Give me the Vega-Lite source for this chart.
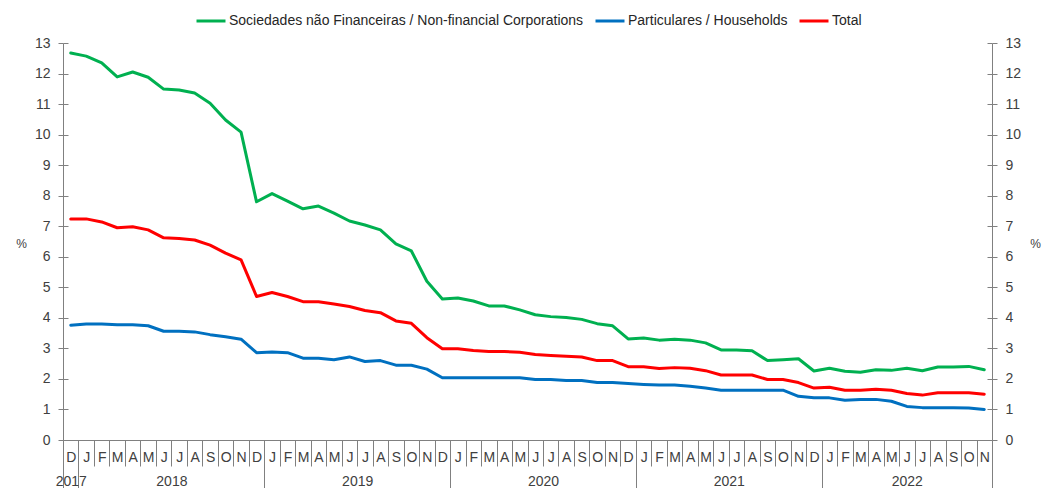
{
  "$schema": "https://vega.github.io/schema/vega-lite/v6.json",
  "width": 929,
  "height": 397,
  "autosize": {"type": "none"},
  "padding": {"left": 63, "top": 43, "right": 53, "bottom": 48},
  "background": "white",
  "config": {
    "font": "Liberation Sans",
    "view": {"stroke": null},
    "axis": {
      "labelFont": "Liberation Sans",
      "labelFontSize": 14,
      "labelColor": "#404040",
      "domainColor": "#808080",
      "tickColor": "#808080",
      "grid": false,
      "domainWidth": 1,
      "tickWidth": 1,
      "labelOverlap": false,
      "labelFlush": false,
      "labelBound": false
    }
  },
  "data": {
    "values": [
      {"i": 0, "m": "2017-12", "nfc": 12.67, "hh": 3.76, "tot": 7.24},
      {"i": 1, "m": "2018-01", "nfc": 12.57, "hh": 3.8, "tot": 7.24},
      {"i": 2, "m": "2018-02", "nfc": 12.35, "hh": 3.8, "tot": 7.14},
      {"i": 3, "m": "2018-03", "nfc": 11.89, "hh": 3.77, "tot": 6.95},
      {"i": 4, "m": "2018-04", "nfc": 12.05, "hh": 3.77, "tot": 6.98},
      {"i": 5, "m": "2018-05", "nfc": 11.88, "hh": 3.74, "tot": 6.88},
      {"i": 6, "m": "2018-06", "nfc": 11.49, "hh": 3.56, "tot": 6.62},
      {"i": 7, "m": "2018-07", "nfc": 11.46, "hh": 3.56, "tot": 6.6},
      {"i": 8, "m": "2018-08", "nfc": 11.36, "hh": 3.54, "tot": 6.55},
      {"i": 9, "m": "2018-09", "nfc": 11.03, "hh": 3.45, "tot": 6.38},
      {"i": 10, "m": "2018-10", "nfc": 10.48, "hh": 3.38, "tot": 6.12},
      {"i": 11, "m": "2018-11", "nfc": 10.08, "hh": 3.3, "tot": 5.9},
      {"i": 12, "m": "2018-12", "nfc": 7.8, "hh": 2.86, "tot": 4.7},
      {"i": 13, "m": "2019-01", "nfc": 8.07, "hh": 2.88, "tot": 4.83},
      {"i": 14, "m": "2019-02", "nfc": 7.82, "hh": 2.86, "tot": 4.7},
      {"i": 15, "m": "2019-03", "nfc": 7.57, "hh": 2.68, "tot": 4.53},
      {"i": 16, "m": "2019-04", "nfc": 7.66, "hh": 2.68, "tot": 4.53},
      {"i": 17, "m": "2019-05", "nfc": 7.43, "hh": 2.63, "tot": 4.45},
      {"i": 18, "m": "2019-06", "nfc": 7.17, "hh": 2.72, "tot": 4.37},
      {"i": 19, "m": "2019-07", "nfc": 7.04, "hh": 2.57, "tot": 4.24},
      {"i": 20, "m": "2019-08", "nfc": 6.88, "hh": 2.6, "tot": 4.17},
      {"i": 21, "m": "2019-09", "nfc": 6.42, "hh": 2.45, "tot": 3.9},
      {"i": 22, "m": "2019-10", "nfc": 6.19, "hh": 2.45, "tot": 3.82},
      {"i": 23, "m": "2019-11", "nfc": 5.2, "hh": 2.32, "tot": 3.35},
      {"i": 24, "m": "2019-12", "nfc": 4.62, "hh": 2.04, "tot": 2.99},
      {"i": 25, "m": "2020-01", "nfc": 4.65, "hh": 2.04, "tot": 2.99},
      {"i": 26, "m": "2020-02", "nfc": 4.55, "hh": 2.04, "tot": 2.93},
      {"i": 27, "m": "2020-03", "nfc": 4.39, "hh": 2.04, "tot": 2.9},
      {"i": 28, "m": "2020-04", "nfc": 4.39, "hh": 2.04, "tot": 2.9},
      {"i": 29, "m": "2020-05", "nfc": 4.26, "hh": 2.04, "tot": 2.87},
      {"i": 30, "m": "2020-06", "nfc": 4.1, "hh": 1.98, "tot": 2.8},
      {"i": 31, "m": "2020-07", "nfc": 4.04, "hh": 1.98, "tot": 2.77},
      {"i": 32, "m": "2020-08", "nfc": 4.01, "hh": 1.95, "tot": 2.74},
      {"i": 33, "m": "2020-09", "nfc": 3.95, "hh": 1.95, "tot": 2.72},
      {"i": 34, "m": "2020-10", "nfc": 3.81, "hh": 1.88, "tot": 2.6},
      {"i": 35, "m": "2020-11", "nfc": 3.74, "hh": 1.88, "tot": 2.6},
      {"i": 36, "m": "2020-12", "nfc": 3.31, "hh": 1.85, "tot": 2.4},
      {"i": 37, "m": "2021-01", "nfc": 3.34, "hh": 1.82, "tot": 2.4},
      {"i": 38, "m": "2021-02", "nfc": 3.27, "hh": 1.8, "tot": 2.34},
      {"i": 39, "m": "2021-03", "nfc": 3.3, "hh": 1.8, "tot": 2.37},
      {"i": 40, "m": "2021-04", "nfc": 3.27, "hh": 1.76, "tot": 2.35},
      {"i": 41, "m": "2021-05", "nfc": 3.18, "hh": 1.7, "tot": 2.27},
      {"i": 42, "m": "2021-06", "nfc": 2.95, "hh": 1.63, "tot": 2.13},
      {"i": 43, "m": "2021-07", "nfc": 2.95, "hh": 1.63, "tot": 2.13},
      {"i": 44, "m": "2021-08", "nfc": 2.92, "hh": 1.63, "tot": 2.13},
      {"i": 45, "m": "2021-09", "nfc": 2.6, "hh": 1.63, "tot": 1.98},
      {"i": 46, "m": "2021-10", "nfc": 2.63, "hh": 1.63, "tot": 1.98},
      {"i": 47, "m": "2021-11", "nfc": 2.66, "hh": 1.43, "tot": 1.88},
      {"i": 48, "m": "2021-12", "nfc": 2.26, "hh": 1.38, "tot": 1.7},
      {"i": 49, "m": "2022-01", "nfc": 2.35, "hh": 1.38, "tot": 1.73},
      {"i": 50, "m": "2022-02", "nfc": 2.25, "hh": 1.3, "tot": 1.63},
      {"i": 51, "m": "2022-03", "nfc": 2.22, "hh": 1.33, "tot": 1.63},
      {"i": 52, "m": "2022-04", "nfc": 2.3, "hh": 1.33, "tot": 1.66},
      {"i": 53, "m": "2022-05", "nfc": 2.28, "hh": 1.27, "tot": 1.63},
      {"i": 54, "m": "2022-06", "nfc": 2.35, "hh": 1.1, "tot": 1.52},
      {"i": 55, "m": "2022-07", "nfc": 2.27, "hh": 1.06, "tot": 1.47},
      {"i": 56, "m": "2022-08", "nfc": 2.39, "hh": 1.06, "tot": 1.55},
      {"i": 57, "m": "2022-09", "nfc": 2.39, "hh": 1.06, "tot": 1.55},
      {"i": 58, "m": "2022-10", "nfc": 2.41, "hh": 1.05, "tot": 1.55},
      {"i": 59, "m": "2022-11", "nfc": 2.3, "hh": 1.0, "tot": 1.5}
    ]
  },
  "transform": [{"fold": ["nfc", "hh", "tot"], "as": ["series", "value"]}],
  "layer": [
    {
      "mark": {"type": "line", "strokeWidth": 3, "strokeJoin": "round", "strokeCap": "round"},
      "encoding": {
        "x": {
          "field": "i", "type": "quantitative",
          "scale": {"domain": [-0.5, 59.5], "nice": false, "zero": false},
          "axis": {
            "orient": "bottom",
            "values": [0,1,2,3,4,5,6,7,8,9,10,11,12,13,14,15,16,17,18,19,20,21,22,23,24,25,26,27,28,29,30,31,32,33,34,35,36,37,38,39,40,41,42,43,44,45,46,47,48,49,50,51,52,53,54,55,56,57,58,59],
            "labelExpr": "substring('DJFMAMJJASON', datum.value % 12, datum.value % 12 + 1)",
            "ticks": false,
            "labelPadding": 10,
            "labelAngle": 0,
            "domain": true,
            "title": null
          }
        },
        "y": {
          "field": "value", "type": "quantitative",
          "scale": {"domain": [0, 13], "nice": false},
          "axis": {
            "orient": "left",
            "values": [0,1,2,3,4,5,6,7,8,9,10,11,12,13],
            "tickSize": 5,
            "labelPadding": 8,
            "title": "%",
            "titleAngle": 0,
            "titleX": -42,
            "titleY": 200,
            "titleAlign": "center",
            "titleBaseline": "middle",
            "titleFontWeight": "normal",
            "titleFontSize": 12,
            "titleColor": "#404040",
            "titleFont": "Liberation Sans"
          }
        },
        "color": {
          "field": "series", "type": "nominal",
          "scale": {"domain": ["nfc", "hh", "tot"], "range": ["#00B050", "#0070C0", "#FF0000"]},
          "legend": {
            "orient": "none",
            "legendX": 132,
            "legendY": -38,
            "direction": "horizontal",
            "title": null,
            "symbolType": "stroke",
            "symbolStrokeWidth": 3,
            "symbolSize": 841,
            "labelFontSize": 14,
            "labelFont": "Liberation Sans",
            "labelColor": "#262626",
            "labelLimit": 0,
            "labelOffset": 2,
            "columnPadding": 5,
            "labelExpr": "datum.label == 'nfc' ? 'Sociedades não Financeiras / Non-financial Corporations' : datum.label == 'hh' ? 'Particulares / Households' : 'Total'"
          }
        }
      }
    },
    {
      "mark": {"type": "line", "opacity": 0},
      "encoding": {
        "x": {
          "field": "i", "type": "quantitative",
          "scale": {"domain": [-0.5, 59.5], "nice": false, "zero": false},
          "axis": {
            "orient": "bottom",
            "values": [-0.5,0.5,1.5,2.5,3.5,4.5,5.5,6.5,7.5,8.5,9.5,10.5,11.5,12.5,13.5,14.5,15.5,16.5,17.5,18.5,19.5,20.5,21.5,22.5,23.5,24.5,25.5,26.5,27.5,28.5,29.5,30.5,31.5,32.5,33.5,34.5,35.5,36.5,37.5,38.5,39.5,40.5,41.5,42.5,43.5,44.5,45.5,46.5,47.5,48.5,49.5,50.5,51.5,52.5,53.5,54.5,55.5,56.5,57.5,58.5,59.5],
            "tickSize": 26,
            "labels": false,
            "domain": false,
            "title": null
          }
        },
        "y": {
          "field": "value", "type": "quantitative",
          "scale": {"domain": [0, 13], "nice": false},
          "axis": {
            "orient": "right",
            "values": [0,1,2,3,4,5,6,7,8,9,10,11,12,13],
            "tickSize": 5,
            "labelPadding": 8,
            "title": "%",
            "titleAngle": 0,
            "titleX": 43,
            "titleY": 200,
            "titleAlign": "center",
            "titleBaseline": "middle",
            "titleFontWeight": "normal",
            "titleFontSize": 12,
            "titleColor": "#404040",
            "titleFont": "Liberation Sans"
          }
        }
      }
    },
    {
      "mark": {"type": "line", "opacity": 0},
      "encoding": {
        "x": {
          "field": "i", "type": "quantitative",
          "scale": {"domain": [-0.5, 59.5], "nice": false, "zero": false},
          "axis": {
            "orient": "bottom",
            "values": [-0.5, 0.5, 12.5, 24.5, 36.5, 48.5, 59.5],
            "tickSize": 48,
            "labels": false,
            "domain": false,
            "title": null
          }
        },
        "y": {
          "field": "value", "type": "quantitative",
          "scale": {"domain": [0, 13], "nice": false},
          "axis": {
            "orient": "left",
            "values": [0,1,2,3,4,5,6,7,8,9,10,11,12,13],
            "tickSize": -5,
            "labels": false,
            "domain": false,
            "title": null
          }
        }
      }
    },
    {
      "mark": {"type": "line", "opacity": 0},
      "encoding": {
        "x": {
          "field": "i", "type": "quantitative",
          "scale": {"domain": [-0.5, 59.5], "nice": false, "zero": false},
          "axis": {
            "orient": "bottom",
            "values": [0, 6.5, 18.5, 30.5, 42.5, 54],
            "labelExpr": "datum.value < 1 ? '2017' : datum.value < 12 ? '2018' : datum.value < 24 ? '2019' : datum.value < 36 ? '2020' : datum.value < 48 ? '2021' : '2022'",
            "ticks": false,
            "labelPadding": 34,
            "labelAngle": 0,
            "domain": false,
            "title": null
          }
        },
        "y": {
          "field": "value", "type": "quantitative",
          "scale": {"domain": [0, 13], "nice": false},
          "axis": {
            "orient": "right",
            "values": [0,1,2,3,4,5,6,7,8,9,10,11,12,13],
            "tickSize": -5,
            "labels": false,
            "domain": false,
            "title": null
          }
        }
      }
    }
  ],
  "resolve": {"axis": {"x": "independent", "y": "independent"}}
}
